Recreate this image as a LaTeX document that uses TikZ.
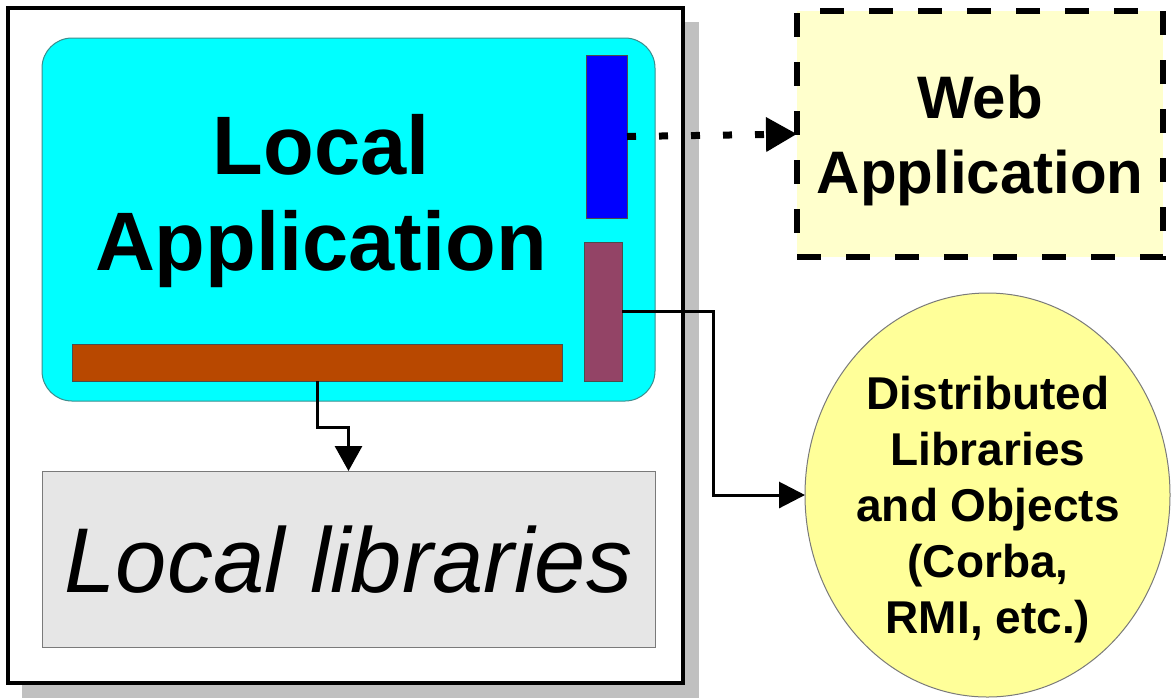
\documentclass[tikz,border=0pt]{standalone}
\usepackage{fontspec}
\setmainfont{Liberation Sans}
\usetikzlibrary{arrows.meta,shapes.geometric}
\definecolor{shadowgray}{HTML}{C0C0C0}
\definecolor{appcyan}{HTML}{00FFFF}
\definecolor{cyanedge}{HTML}{3C8C8C}
\definecolor{blueport}{HTML}{0000FF}
\definecolor{purpleport}{HTML}{934466}
\definecolor{brownbar}{HTML}{B84800}
\definecolor{libgray}{HTML}{E6E6E6}
\definecolor{webyellow}{HTML}{FFFFCC}
\definecolor{distyellow}{HTML}{FFFF99}
\definecolor{edgegray}{HTML}{7A7A7A}
\begin{document}
\begin{tikzpicture}[x=0.5pt,y=-0.5pt,
  box/.style={draw,inner sep=0pt,outer sep=0pt},
  port/.style={box,draw=black!70,line width=0.5pt},
  txt/.style={inner sep=0pt,outer sep=0pt,align=center,text depth=0pt},
  conn/.style={draw,line width=1.5pt},
  tipA/.style={-{Triangle[length=12.5pt,width=13.5pt]}},
  tipB/.style={-{Triangle[length=13pt,width=13pt]}},
  tipC/.style={-{Triangle[length=15.5pt,width=16.5pt]}}]
\useasboundingbox (0,0) rectangle (1171,698);
% shadow of the outer frame
\fill[shadowgray] (22,22) rectangle (699,698);
\node[box,fill=white,line width=2pt,minimum width=337.5pt,minimum height=337.5pt] (frame) at (345.5,345.5) {};
% local application
\node[box,fill=appcyan,draw=cyanedge,line width=0.5pt,rounded corners=15pt,minimum width=306.5pt,minimum height=181.5pt] (app) at (348.5,219.5) {};
\node[txt,font=\bfseries\fontsize{41.5}{48}\selectfont] (apptext) at (321,192.5) {Local\\Application};
\node[port,fill=blueport,minimum width=20.5pt,minimum height=81.5pt] (blue) at (606.5,136.5) {};
\node[port,fill=purpleport,minimum width=19pt,minimum height=69.5pt] (purple) at (603,311.5) {};
\node[port,fill=brownbar,minimum width=245pt,minimum height=18.5pt] (brown) at (317,362.5) {};
% local libraries
\node[box,fill=libgray,draw=edgegray,line width=0.5pt,minimum width=306.5pt,minimum height=88pt,
      font=\itshape\fontsize{46}{55}\selectfont,text depth=0pt] (libs) at (348.5,559) {Local libraries};
% web application
\node[box,fill=webyellow,line width=3pt,dash pattern=on 12pt off 12.5pt,minimum width=183pt,minimum height=123pt,
      align=center,font=\bfseries\fontsize{30}{37.5}\selectfont,text depth=0pt] (web) at (980,134) {Web\\Application};
% distributed libraries
\node[ellipse,box,fill=distyellow,draw=edgegray,line width=0.5pt,minimum width=182.5pt,minimum height=202pt] (dist) at (987.5,495) {};
\node[txt,font=\bfseries\fontsize{23}{28}\selectfont] (disttext) at (988,505) {Distributed\\Libraries\\and Objects\\(Corba,\hspace*{0.3em}\\RMI, etc.)};
% connectors
\draw[conn,tipA] (brown.south) -- ++(0,46) -| (libs.north);
\draw[conn,tipB] (purple.east) -- ++(91,0) |- (dist.west);
\draw[line width=3.5pt,dash pattern=on 4.5pt off 11.5pt,tipC] (blue.east) -- (web.west);
\end{tikzpicture}
\end{document}
